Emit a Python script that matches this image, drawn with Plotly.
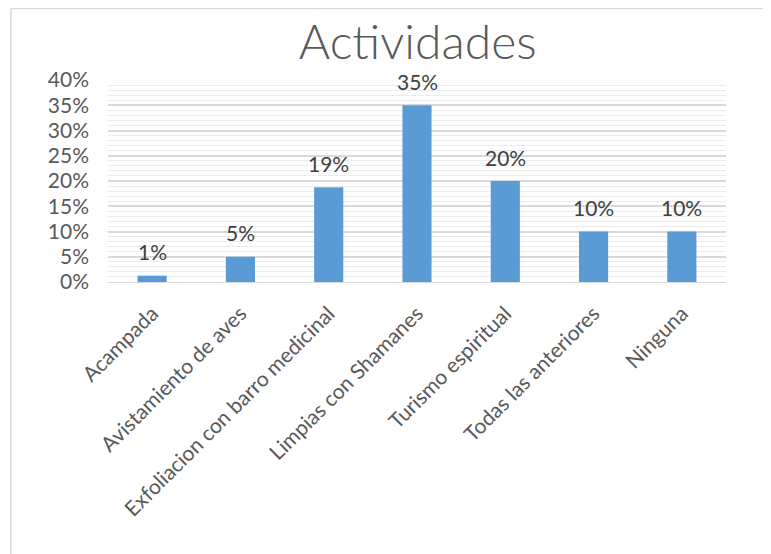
import plotly.graph_objects as go

categories = ["Acampada", "Avistamiento de aves", "Exfoliacion con barro medicinal",
              "Limpias con Shamanes", "Turismo espiritual", "Todas las anteriores", "Ninguna"]
values = [0.0125, 0.05, 0.1875, 0.35, 0.20, 0.10, 0.10]
title_text = "Actividades"

FONT = "Lato, Noto Sans, sans-serif"

fig = go.Figure()
fig.add_trace(go.Bar(
    x=categories, y=values,
    marker=dict(color="#5B9BD5", line=dict(width=0)),
    hoverinfo="x+y",
))

annotations = [
    dict(x=c, y=v, xref="x", yref="y", text=f"{round(v * 100):.0f}%", showarrow=False,
         yanchor="middle", xanchor="center", yshift=24,
         font=dict(family=FONT, size=21, color="#404040"))
    for c, v in zip(categories, values)
]

fig.update_layout(
    width=763, height=546,
    margin=dict(l=100, r=45, t=72, b=272),
    paper_bgcolor="white", plot_bgcolor="white",
    showlegend=False,
    bargap=0.67,
    title=dict(text=title_text, x=0.537, xanchor="center", y=0.938, yanchor="middle",
               font=dict(family=FONT, size=48, color="#595959", weight=300)),
    xaxis=dict(showgrid=False, showline=True, linecolor="#D9D9D9", linewidth=1,
               tickangle=-45, ticks="", ticklabelstandoff=10,
               tickfont=dict(family=FONT, size=21, color="#595959")),
    yaxis=dict(range=[0, 0.40], dtick=0.05, tickformat=".0%",
               showgrid=True, gridcolor="#D9D9D9", gridwidth=1.5,
               minor=dict(dtick=0.01, showgrid=True, gridcolor="#ECECEC", gridwidth=1),
               zeroline=False, showline=False, ticks="", ticklabelstandoff=18,
               tickfont=dict(family=FONT, size=21, color="#595959")),
    annotations=annotations,
    shapes=[
        dict(type="line", xref="paper", yref="paper", x0=-0.157, x1=1.08, y0=1.354, y1=1.354,
             line=dict(color="#D9D9D9", width=1.5)),
        dict(type="line", xref="paper", yref="paper", x0=-0.157, x1=-0.157, y0=1.354, y1=-1.4,
             line=dict(color="#D9D9D9", width=1.5)),
    ],
)

fig.write_html("out.html")
